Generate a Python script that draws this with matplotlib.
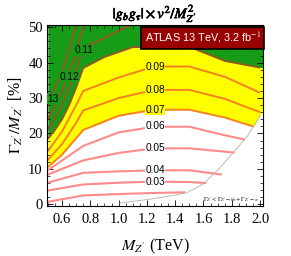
import numpy as np
import matplotlib
matplotlib.use("Agg")
import matplotlib.pyplot as plt
import matplotlib.patheffects as pe

plt.rcParams['font.family'] = ['Liberation Serif', 'DejaVu Serif']
plt.rcParams['mathtext.fontset'] = 'stix'

# contour lines: M_Z' (TeV) vs Gamma/M (%)
x02 = [0.5, 0.75, 1.0, 1.25, 1.47]
y02 = [0.7, 2.5, 2.9, 3.2, 3.4]
x03 = [0.5, 0.75, 1.0, 1.25, 1.5, 1.62]
y03 = [3.9, 5.6, 6.1, 6.4, 6.3, 6.0]
x04 = [0.5, 0.75, 1.0, 1.25, 1.5, 1.73]
y04 = [6.1, 8.9, 9.3, 9.6, 9.6, 8.4]
x05 = [0.5, 0.75, 1.0, 1.25, 1.5, 1.82]
y05 = [8.4, 12.4, 14.5, 15.8, 15.8, 14.6]
x06 = [0.5, 0.75, 1.0, 1.25, 1.5, 1.75, 1.89]
y06 = [9.6, 16.5, 20.3, 21.9, 21.9, 19.5, 18.3]
x07 = [0.5, 0.6, 0.75, 1.0, 1.25, 1.5, 1.75, 1.95]
y07 = [10.5, 14.0, 21.0, 25.0, 26.7, 26.7, 24.5, 22.0]
x08 = [0.5, 0.6, 0.7, 0.75, 1.0, 1.25, 1.5, 1.75, 2.0]
y08 = [12.5, 17.0, 23.0, 26.5, 30.0, 32.3, 32.3, 29.8, 26.0]
x09 = [0.5, 0.6, 0.7, 0.75, 1.0, 1.25, 1.5, 1.75, 2.0]
y09 = [15.0, 20.5, 28.0, 32.0, 35.8, 38.9, 38.9, 36.0, 31.5]
x10 = [0.5, 0.55, 0.6, 0.65, 0.7, 0.75, 0.9, 1.1, 1.5, 1.75, 2.0]
y10 = [18.5, 21.0, 24.0, 28.0, 33.0, 38.5, 41.6, 44.4, 44.5, 40.5, 38.6]
x11 = [0.5, 0.6, 0.7, 0.745, 0.9, 1.08]
y11 = [21.0, 28.0, 38.0, 44.0, 47.0, 50.5]
x12 = [0.5, 0.6, 0.7, 0.75]
y12 = [24.0, 32.0, 43.0, 50.5]
x13 = [0.5, 0.6, 0.7]
y13 = [28.0, 37.5, 50.5]

# Gamma_Z' < Gamma(bb) + Gamma(tautau) boundary
xb = [1.0, 1.25, 1.48, 1.6, 1.72, 1.81, 1.91, 2.0, 2.02]
yb = [0.3, 1.6, 3.2, 5.8, 10.5, 14.6, 19.2, 25.0, 26.5]

levels = [0.02, 0.03, 0.04, 0.05, 0.06, 0.07, 0.08, 0.09, 0.10, 0.11, 0.12, 0.13]
lines = [(x02, y02), (x03, y03), (x04, y04), (x05, y05), (x06, y06), (x07, y07),
         (x08, y08), (x09, y09), (x10, y10), (x11, y11), (x12, y12), (x13, y13)]

# contour labels (the 0.13 one is cut by the frame, only "13" shows)
label_text = ['0.03', '0.04', '0.05', '0.06', '0.07', '0.08', '0.09', '0.11', '0.12', '13']
label_x = [1.258, 1.258, 1.258, 1.258, 1.258, 1.258, 1.258, 0.756, 0.65, 0.497]
label_y = [6.4, 9.6, 15.8, 22.0, 26.7, 32.3, 38.9, 43.5, 36.0, 29.8]

green = '#179c17'
yellow = '#ffff00'
fig = plt.figure(figsize=(2.91, 2.56), dpi=100)
ax = fig.add_axes([0.1615, 0.195, 0.7425, 0.707])

# filled regions
xg = np.linspace(0.5, 2.02, 400)
top10 = np.interp(xg, x10, y10)
ax.fill_between(xg, top10, 52, color=green, lw=0, zorder=1)
low = np.maximum(np.interp(xg, x07, y07), np.interp(xg, xb, yb))
ax.fill_between(xg, low, top10, color=yellow, lw=0, zorder=1)

for lv, (xs, ys) in zip(levels, lines):
    if lv < 0.065:
        c, lw = '#ff8a8a', 1.5
    elif lv < 0.095:
        c, lw = '#f58220', 1.4
    else:
        c, lw = '#8c5a22', 1.4
    ax.plot(xs, ys, color=c, lw=lw, zorder=2, solid_capstyle='butt')

ax.plot(xb[:-1], yb[:-1], color='#b0b0b0', lw=0.6, zorder=3)

for txt, lx, ly in zip(label_text, label_x, label_y):
    lv = float('0.' + txt.split('.')[-1])
    if lv < 0.065:
        bg = 'white'
    elif lv < 0.095:
        bg = yellow
    else:
        bg = green
    ax.text(lx, ly, txt, fontsize=7.3, family='Liberation Sans',
            ha='left' if txt == '13' else 'center', va='center', zorder=4,
            bbox=dict(boxstyle='square,pad=0.05', fc=bg, ec='none'))

ax.text(1.595, 47.0, r'ATLAS 13 TeV, 3.2 fb$^{-1}$', fontsize=7.8, color='white',
        family='Liberation Sans', ha='center', va='center', zorder=5,
        bbox=dict(boxstyle='square,pad=0.3', fc='#990000', ec='black', lw=1.2))
ax.text(1.995, 1.4, r"$\Gamma_{Z'} < \Gamma_{Z'\to bb} + \Gamma_{Z'\to\tau\tau}$",
        fontsize=4.5, ha='right', va='center', zorder=5)

ax.set_xlim(0.494, 2.021)
ax.set_ylim(-0.5, 50.6)
ax.set_xticks(np.arange(0.6, 2.01, 0.2))
ax.set_xticklabels(['0.6', '0.8', '1.0', '1.2', '1.4', '1.6', '1.8', '2.0'])
ax.set_yticks([0, 10, 20, 30, 40, 50])
ax.set_xticks(np.arange(0.5, 2.02, 0.05), minor=True)
ax.set_yticks(np.arange(0, 51, 2), minor=True)
ax.tick_params(which='both', direction='in', top=True, right=True, labelsize=10.5)
ax.tick_params(axis='x', pad=5)
ax.tick_params(axis='y', pad=3)
ax.tick_params(which='major', length=4, width=0.6)
ax.tick_params(which='minor', length=2, width=0.5)
for s in ax.spines.values():
    s.set_linewidth(0.8)

ax.set_xlabel(r"$M_{Z'}$ (TeV)", fontsize=11.5, labelpad=8)
ax.set_ylabel(r"$\Gamma_{Z'}/M_{Z'}$ [%]", fontsize=11.5, labelpad=2)
t = ax.set_title(r"$|g_b g_\tau|\times v^2/M_{Z'}^2$", fontsize=10.5, pad=5)
t.set_path_effects([pe.withStroke(linewidth=0.5, foreground='black')])

fig.savefig('out.png', dpi=100)
